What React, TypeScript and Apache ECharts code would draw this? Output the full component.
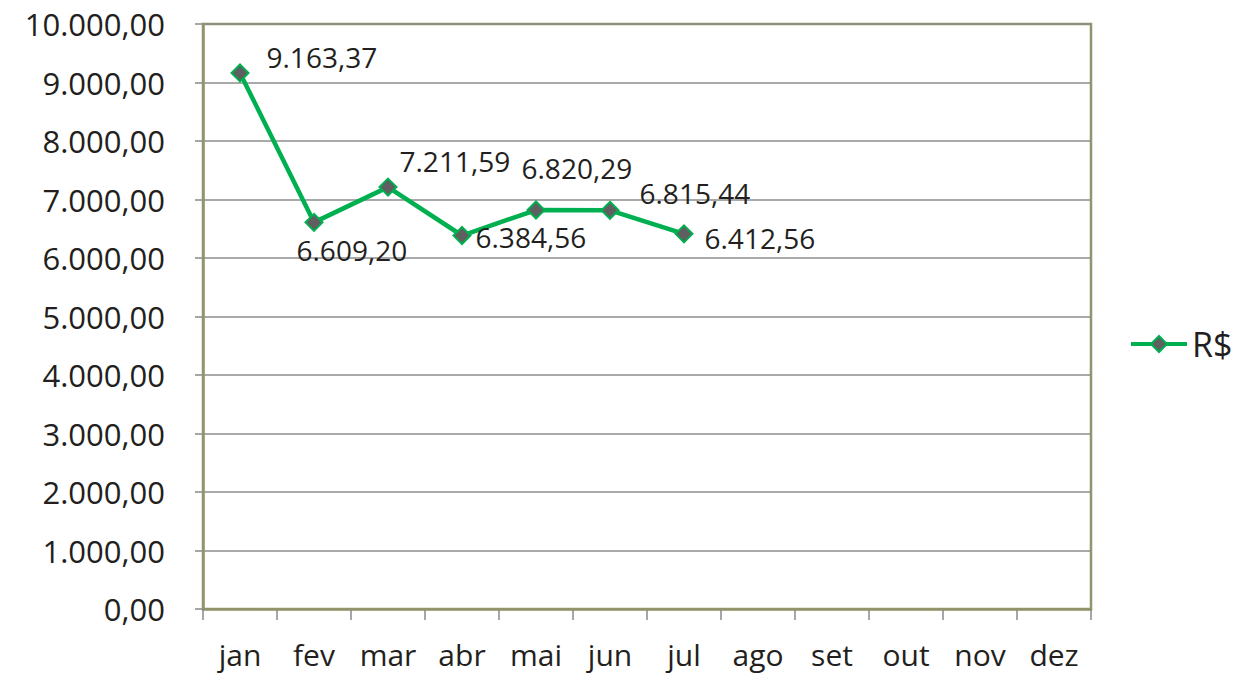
import React, { useEffect, useRef } from "react";
import * as echarts from "echarts";

const months = ["jan", "fev", "mar", "abr", "mai", "jun", "jul", "ago", "set", "out", "nov", "dez"];
const values: (number | null)[] = [9163.37, 6609.2, 7211.59, 6384.56, 6820.29, 6815.44, 6412.56, null, null, null, null, null];
const labelOffsets: [number, number][] = [
  [3, -16],
  [-41, 28],
  [-12, -26],
  [-10, 1],
  [-38, -42],
  [6, -17],
  [-3, 4],
];
const yTicks = { min: 0, max: 10000, interval: 1000 };

const fmt = (v: number) => {
  const fixed = v.toFixed(2);
  const [int, dec] = fixed.split(".");
  return int.replace(/\B(?=(\d{3})+(?!\d))/g, ".") + "," + dec;
};

const FONT = "'Open Sans', sans-serif";

export default function App() {
  const ref = useRef<HTMLDivElement>(null);
  useEffect(() => {
    const chart = echarts.init(ref.current!, null, { renderer: "svg" });
    const data = values.map((v, i) =>
      v == null
        ? null
        : {
            value: v,
            label: {
              show: true,
              position: "right",
              distance: 14,
              offset: labelOffsets[i],
              formatter: () => fmt(v),
            },
          }
    );
    chart.setOption({
      animation: false,
      backgroundColor: "#ffffff",
      grid: {
        left: 203,
        top: 24,
        width: 888,
        height: 585,
        show: true,
        borderColor: "#94946a",
        borderWidth: 2.5,
        backgroundColor: "transparent",
      },
      legend: {
        show: true,
        orient: "vertical",
        left: 1124,
        top: 322,
        itemWidth: 56,
        itemHeight: 20,
        itemGap: 6,
        lineStyle: { width: 4 },
        textStyle: { fontFamily: FONT, fontSize: 34, color: "#231f20" },
        data: ["R$"],
      },
      xAxis: {
        type: "category",
        data: months,
        boundaryGap: true,
        axisLine: { show: true, lineStyle: { color: "#94946a", width: 2.5 } },
        axisTick: { show: true, length: 11, lineStyle: { color: "#8a8a8a", width: 1.5 } },
        axisLabel: { margin: 30, fontFamily: FONT, fontSize: 30, color: "#231f20", interval: 0 },
        splitLine: { show: false },
      },
      yAxis: {
        type: "value",
        min: yTicks.min,
        max: yTicks.max,
        interval: yTicks.interval,
        axisLine: { show: true, lineStyle: { color: "#94946a", width: 2.5 } },
        axisTick: { show: true, length: 8, lineStyle: { color: "#8a8a8a", width: 1.5 } },
        axisLabel: {
          margin: 38,
          fontFamily: FONT,
          fontSize: 31,
          color: "#231f20",
          formatter: (v: number) => fmt(v),
        },
        splitLine: { show: true, lineStyle: { color: "#8c8c8c", width: 1.5 } },
      },
      series: [
        {
          name: "R$",
          type: "line",
          data,
          connectNulls: false,
          symbol: "diamond",
          symbolSize: 17,
          lineStyle: { color: "#00b050", width: 4.5 },
          itemStyle: { color: "#5f5f5f", borderColor: "#00b050", borderWidth: 2 },
          label: { fontFamily: FONT, fontSize: 28, color: "#231f20" },
          emphasis: { disabled: true },
        },
      ],
    });
    return () => chart.dispose();
  }, []);
  return (
    <div
      ref={ref}
      style={{ position: "absolute", left: 0, top: 0, width: 1245, height: 678 }}
    />
  );
}
